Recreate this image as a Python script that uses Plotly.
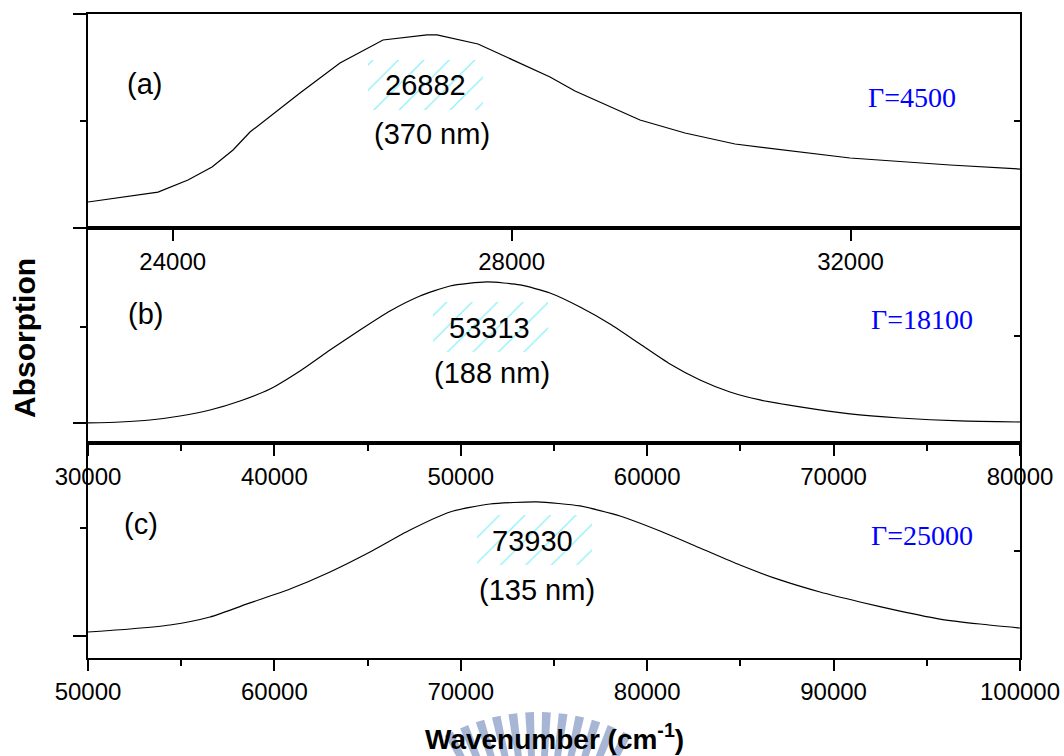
import numpy as np
import plotly.graph_objects as go

# ---------------- data ----------------
wn_a = [23000, 23826, 24180, 24464, 24712, 24912, 25502, 25974, 26482, 27001, 27119,
        27603, 28453, 28748, 29515, 30046, 30637, 31404, 31994, 33174, 34000]
abs_a = [0.243, 0.336, 0.449, 0.570, 0.729, 0.897, 1.262, 1.542, 1.757, 1.804, 1.804,
         1.720, 1.411, 1.280, 1.009, 0.888, 0.785, 0.710, 0.654, 0.589, 0.551]

wn_b = [30000, 31717, 33326, 34936, 36545, 38155, 39764, 41373, 42983, 44592,
        46202, 47811, 49421, 51406, 53176, 54785, 56395, 58004, 59614, 61223,
        62833, 64442, 66052, 68198, 70880, 73563, 76782, 80000]
abs_b = [0.000, 0.010, 0.031, 0.073, 0.135, 0.229, 0.354, 0.542, 0.760, 0.969,
         1.167, 1.323, 1.427, 1.469, 1.438, 1.354, 1.208, 1.031, 0.823, 0.615,
         0.448, 0.323, 0.240, 0.167, 0.094, 0.052, 0.021, 0.010]

wn_c = [50000, 52253, 54399, 56545, 58691, 60837, 62983, 65129, 67275, 69421,
        71567, 74088, 76395, 78541, 80687, 82833, 84979, 87125, 89271, 91416,
        93562, 95708, 97854, 100000]
abs_c = [0.037, 0.065, 0.102, 0.176, 0.306, 0.435, 0.593, 0.778, 0.981, 1.148,
         1.222, 1.241, 1.204, 1.111, 0.972, 0.815, 0.657, 0.519, 0.407, 0.315,
         0.231, 0.157, 0.111, 0.074]

panel_labels = ["(a)", "(b)", "(c)"]
peak_wn_labels = ["26882", "53313", "73930"]
peak_nm_labels = ["(370 nm)", "(188 nm)", "(135 nm)"]
gamma_labels = ["Γ=4500", "Γ=18100", "Γ=25000"]

x_tickvals = [[24000, 28000, 32000],
              [30000, 40000, 50000, 60000, 70000, 80000],
              [50000, 60000, 70000, 80000, 90000, 100000]]
x_ticktext = [[str(v) for v in tv] for tv in x_tickvals]

# ---------------- layout parameters ----------------
x_ranges = [[23000, 34000], [30000, 80000], [50000, 100000]]
y_ranges = [[0, 2.0], [-0.2083, 2.0313], [-0.2037, 1.787]]
x_minor_dtick = [None, 5000, 5000]
y_major = [[0, 2], [0], [0]]
y_minor = [[1], [1], [1]]
y_right = [[1.0], [0.906], [0.787]]
domains = [[0.6677, 1.0], [0.3339, 0.6677], [0.0, 0.3339]]

# annotation positions (data units of each panel)
panel_lab_pos = [(23661, 1.346), (33058, 1.135), (52843, 1.037)]
peak_wn_pos = [(26978, 1.336), (51566, 0.990), (73873, 0.880)]
peak_nm_pos = [(27060, 0.879), (51674, 0.521), (74088, 0.426)]
gamma_pos = [(32726, 1.224), (74742, 1.073), (94742, 0.926)]
hatch_boxes = [(26305, 27662, 1.103, 1.570),
               (48509, 54679, 0.740, 1.260),
               (70870, 77040, 0.657, 1.120)]

SANS = "Liberation Sans, Arial, sans-serif"
SERIF = "Liberation Serif, Times New Roman, serif"

fig = go.Figure()
curves = [(wn_a, abs_a, "linear"), (wn_b, abs_b, "spline"), (wn_c, abs_c, "spline")]

for i, (xs, ys, shape) in enumerate(curves):
    xa = "x" if i == 0 else f"x{i+1}"
    ya = "y" if i == 0 else f"y{i+1}"
    fig.add_trace(go.Scatter(x=xs, y=ys, mode="lines", xaxis=xa, yaxis=ya,
                             line=dict(color="black", width=1.2, shape=shape,
                                       smoothing=0.6),
                             hoverinfo="skip"))
    # hatched box behind the peak label (on the right-hand overlay axis)
    x0, x1, y0, y1 = hatch_boxes[i]
    fig.add_trace(go.Scatter(x=[x0, x1, x1, x0, x0], y=[y0, y0, y1, y1, y0],
                             xaxis=xa, yaxis=f"y{i+4}", mode="lines",
                             line=dict(width=0, color="rgba(0,0,0,0)"),
                             fill="toself", fillcolor="rgba(0,0,0,0)",
                             fillpattern=dict(shape="/", fgcolor="rgb(20,225,240)",
                                              bgcolor="rgba(0,0,0,0)", size=18,
                                              solidity=0.07),
                             hoverinfo="skip"))

layout = dict(width=1064, height=756, showlegend=False,
              paper_bgcolor="white", plot_bgcolor="white",
              margin=dict(l=88, r=44, t=14, b=98, autoexpand=False),
              font=dict(family=SANS, color="black"))

for i in range(3):
    xk = "xaxis" if i == 0 else f"xaxis{i+1}"
    yk = "yaxis" if i == 0 else f"yaxis{i+1}"
    ya = "y" if i == 0 else f"y{i+1}"
    xa = "x" if i == 0 else f"x{i+1}"
    xd = dict(domain=[0, 1], anchor=ya, range=x_ranges[i], automargin=False,
              showline=True, linewidth=2, linecolor="black", mirror=True,
              ticks="outside", ticklen=11, tickwidth=2, tickcolor="black",
              tickvals=x_tickvals[i], ticktext=x_ticktext[i],
              tickfont=dict(size=24, family=SANS, color="black"),
              showgrid=False, zeroline=False)
    if x_minor_dtick[i]:
        xd["minor"] = dict(dtick=x_minor_dtick[i], tick0=0, ticks="outside",
                           ticklen=6, tickwidth=2, tickcolor="black", showgrid=False)
    layout[xk] = xd
    layout[yk] = dict(domain=domains[i], anchor=xa, range=y_ranges[i], automargin=False,
                      showline=True, linewidth=2, linecolor="black", mirror=True,
                      ticks="outside", ticklen=13, tickwidth=2, tickcolor="black",
                      tickvals=y_major[i], showticklabels=False,
                      minor=dict(tickvals=y_minor[i], ticks="outside", ticklen=6,
                                 tickwidth=2, tickcolor="black", showgrid=False),
                      showgrid=False, zeroline=False)
    layout[f"yaxis{i+4}"] = dict(overlaying=ya, anchor=xa, side="right",
                                 range=y_ranges[i], tickvals=y_right[i],
                                 automargin=False,
                                 ticks="inside", ticklen=6, tickwidth=2,
                                 tickcolor="black", showticklabels=False,
                                 showline=False, showgrid=False, zeroline=False)

fig.update_layout(**layout)

annotations = []
for i in range(3):
    xr = "x" if i == 0 else f"x{i+1}"
    yr = "y" if i == 0 else f"y{i+1}"
    for txt, pos, fam, size, col in [
        (panel_labels[i], panel_lab_pos[i], SANS, 29, "black"),
        (peak_wn_labels[i], peak_wn_pos[i], SANS, 29, "black"),
        (peak_nm_labels[i], peak_nm_pos[i], SANS, 29, "black"),
        (gamma_labels[i], gamma_pos[i], SERIF, 28, "#0000ff"),
    ]:
        annotations.append(dict(text=txt, x=pos[0], y=pos[1], xref=xr, yref=yr,
                                showarrow=False, xanchor="center", yanchor="middle",
                                font=dict(family=fam, size=size, color=col)))

annotations.append(dict(text="<b>Absorption</b>", x=-0.0676, y=0.497,
                        xref="paper", yref="paper", showarrow=False, textangle=-90,
                        xanchor="center", yanchor="middle",
                        font=dict(family=SANS, size=30, color="black")))
annotations.append(dict(text="<b>Wavenumber (cm<sup>-1</sup>)</b>", x=0.5, y=-0.123,
                        xref="paper", yref="paper", showarrow=False,
                        xanchor="center", yanchor="middle",
                        font=dict(family=SANS, size=28, color="black")))
fig.update_layout(annotations=annotations)

# ---------------- watermark (decorative fan of bars behind the x title) ----------------
W, H, L, R, T, B = 1064, 756, 88, 44, 14, 98
pw, ph = W - L - R, H - T - B
cx, cy, r_in, r_out = 538.0, 905.0, 120.0, 193.0
shapes = []
for ang in np.arange(62.5, 118.0, 5.0):
    a0, a1 = np.radians(ang - 1.3), np.radians(ang + 1.3)
    pts = [(cx + r_in * np.cos(a0), cy - r_in * np.sin(a0)),
           (cx + r_out * np.cos(a0), cy - r_out * np.sin(a0)),
           (cx + r_out * np.cos(a1), cy - r_out * np.sin(a1)),
           (cx + r_in * np.cos(a1), cy - r_in * np.sin(a1))]
    path = "M " + " L ".join(f"{(px - L) / pw:.5f},{(T + ph - py) / ph:.5f}" for px, py in pts) + " Z"
    shapes.append(dict(type="path", path=path, xref="paper", yref="paper",
                       fillcolor="rgb(168,182,214)", line=dict(width=0), layer="below"))
fig.update_layout(shapes=shapes)

fig.write_html("out.html")
